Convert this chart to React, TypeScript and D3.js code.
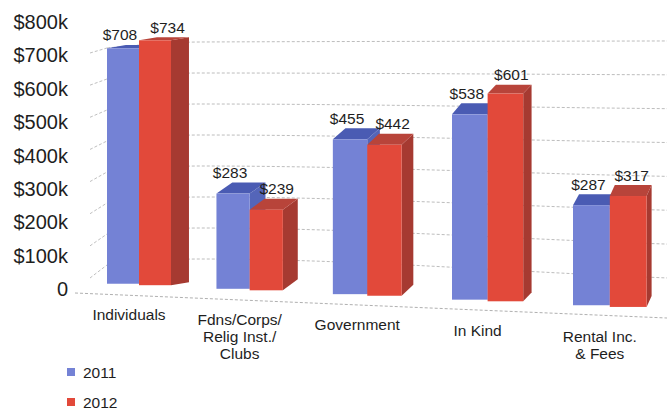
import React from 'react';
import * as d3 from 'd3';

const categories = [
  ["Individuals"],
  ["Fdns/Corps/", "Relig Inst./", "Clubs"],
  ["Government"],
  ["In Kind"],
  ["Rental Inc.", "& Fees"],
];
const seriesNames = ["2011", "2012"];
const values2011 = [708, 283, 455, 538, 287];
const values2012 = [734, 239, 442, 601, 317];
const yTickValues = [0, 100, 200, 300, 400, 500, 600, 700, 800];
const yTickLabels = ["0", "$100k", "$200k", "$300k", "$400k", "$500k", "$600k", "$700k", "$800k"];
const gridValues = [100, 200, 300, 400, 500, 600, 700, 800];

const colors = {
  blue: { front: '#7482d5', top: '#4a5bb3', side: '#5465b9' },
  red: { front: '#e2493a', top: '#b8443a', side: '#a63a31' },
};

export default function App() {
  const W = 667, H = 409;
  const font = "'Liberation Sans', Arial, Helvetica, sans-serif";
  const n = categories.length;

  // perspective-ish projection helpers (picture is a tilted 3D chart)
  const xGroup = d3.scalePow().exponent(1.045).domain([0, n - 1]).range([107, 573]);
  const barW = d3.scaleLinear().domain([0, n - 1]).range([32, 36.8]);
  const baseY = d3.scaleLinear().domain([107, 573]).range([283, 304.4]);
  const kScale = d3.scaleLinear().domain([107, 573]).range([0.332, 0.348]);
  const depthX = d3.scaleLinear().domain([170, 647]).range([18, 5]);
  const depthY = (yTop: number) => -Math.max(3, Math.min(11, (yTop - 20) * 0.12));

  const yAxis = d3.scaleLinear().domain([0, 800]).range([289, 22]);
  const wallFront = d3.scaleLinear().domain([100, 800]).range([278, 53]);
  const wallBack = d3.scaleLinear().domain([100, 800]).range([265, 48]);
  const gridL = d3.scaleLinear().domain([0, 800]).range([290, 42]);
  const gridR = d3.scaleLinear().domain([0, 800]).range([311, 41]);

  const line = d3.line<[number, number]>().curve(d3.curveMonotoneX);

  type Bar = { i: number; s: number; v: number; x0: number; w: number; base: number; yTop: number; dx: number; dy: number };
  const bars: Bar[] = [];
  d3.range(n).forEach(i => {
    [values2011[i], values2012[i]].forEach((v, s) => {
      const w = barW(i);
      const x0 = xGroup(i) + (s === 1 ? barW(i) : 0);
      const xc = x0 + w / 2;
      const base = baseY(xc);
      const y = d3.scaleLinear().domain([0, 800]).range([base, base - 800 * kScale(xc)]);
      const yTop = y(v);
      bars.push({ i, s, v, x0, w, base, yTop, dx: depthX(x0 + w), dy: depthY(yTop) });
    });
  });

  const poly = (pts: [number, number][]) => pts.map(p => p.join(',')).join(' ');

  return (
    <svg width={W} height={H} style={{ position: 'absolute', left: 0, top: 0, background: '#fff' }} fontFamily={font}>
      <rect x={0} y={0} width={W} height={H} fill="#fff" />
      {/* back wall grid lines */}
      {gridValues.map(v => {
        const slope = (gridR(v) - gridL(v)) / 450;
        const pts: [number, number][] = [
          [107, wallBack(v)],
          [200, gridL(v)],
          [650, gridR(v)],
          [667, gridR(v) + slope * 17],
        ];
        return (
          <path key={'g' + v} d={line(pts) || ''} fill="none" stroke="#bdbdbd" strokeWidth={1} strokeDasharray="3,2" />
        );
      })}
      {/* left wall lines */}
      {gridValues.map(v => (
        <line key={'w' + v} x1={90} y1={wallFront(v)} x2={107} y2={wallBack(v)} stroke="#c0c0c0" strokeWidth={1} strokeDasharray="3,2" />
      ))}
      {/* floor front line */}
      <line x1={75} y1={293} x2={667} y2={318} stroke="#b0b0b0" strokeWidth={1} strokeDasharray="3,2" />

      {/* bars */}
      {bars.map((b, k) => {
        const c = b.s === 0 ? colors.blue : colors.red;
        const x1 = b.x0 + b.w;
        return (
          <g key={'b' + k}>
            <polygon points={poly([[x1, b.yTop], [x1 + b.dx, b.yTop + b.dy], [x1 + b.dx, b.base + b.dy], [x1, b.base]])} fill={c.side} />
            <polygon points={poly([[b.x0, b.yTop], [x1, b.yTop], [x1 + b.dx, b.yTop + b.dy], [b.x0 + b.dx, b.yTop + b.dy]])} fill={c.top} />
            <rect x={b.x0} y={b.yTop} width={b.w} height={b.base - b.yTop} fill={c.front} />
          </g>
        );
      })}

      {/* value labels */}
      {bars.map((b, k) => {
        const xc = b.x0 + b.w / 2 + (b.s === 0 ? -3 : b.dx * 0.7);
        return (
          <text key={'l' + k} x={xc} y={b.yTop + b.dy - 10} textAnchor="middle" dominantBaseline="central" fontSize={15.5} fill="#1e1e1e">
            {'$' + b.v}
          </text>
        );
      })}

      {/* y axis labels */}
      {yTickValues.map((v, k) => (
        <text key={'y' + v} x={68} y={yAxis(v)} textAnchor="end" dominantBaseline="central" fontSize={20} fill="#1e1e1e">
          {yTickLabels[k]}
        </text>
      ))}

      {/* category labels */}
      {categories.map((lines, i) => {
        const cx = xGroup(i) + barW(i) - 10;
        const cy = baseY(cx + 10) + 30;
        return (
          <text key={'c' + i} x={cx} y={cy} textAnchor="middle" fontSize={15.5} fill="#1e1e1e">
            {lines.map((t, j) => (
              <tspan key={j} x={cx} y={cy + j * 17} dominantBaseline="central">{t}</tspan>
            ))}
          </text>
        );
      })}

      {/* legend */}
      {seriesNames.map((s, k) => (
        <g key={'lg' + s} transform={`translate(67, ${372 + k * 30})`}>
          <rect x={0} y={-4} width={8} height={8} fill={k === 0 ? colors.blue.front : colors.red.front} />
          <text x={16} y={0} dominantBaseline="central" fontSize={15.5} fill="#1e1e1e">{s}</text>
        </g>
      ))}
    </svg>
  );
}
